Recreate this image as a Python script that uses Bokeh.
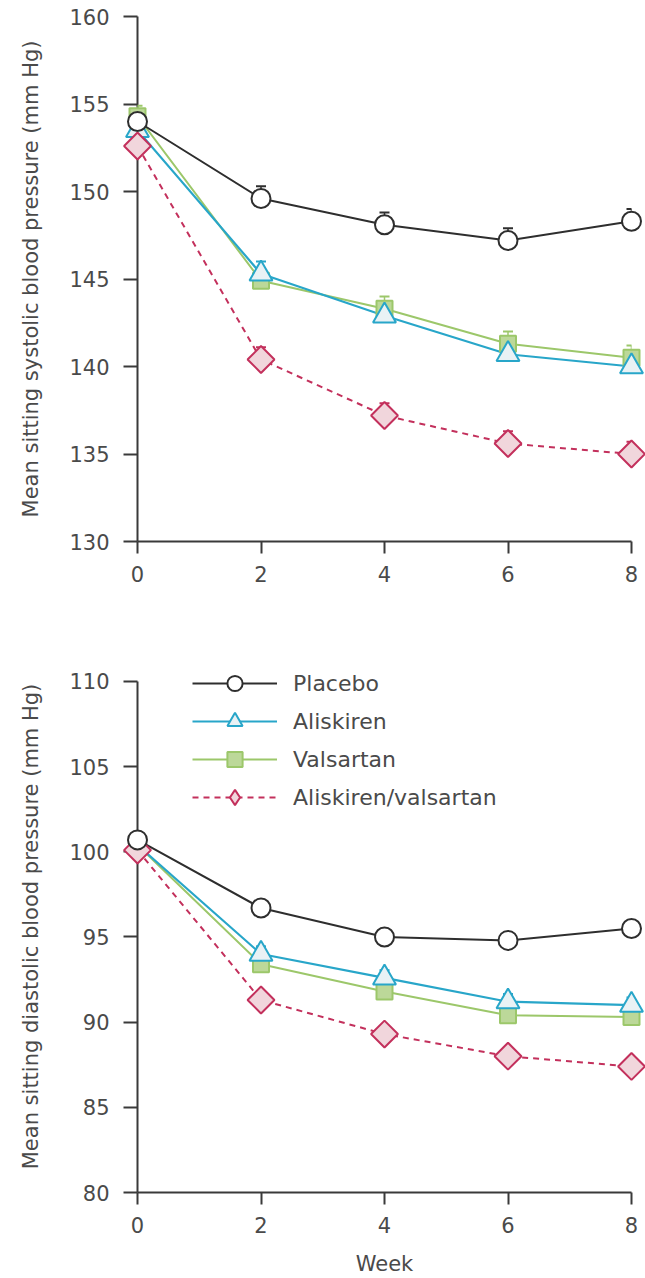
import math
from bokeh.plotting import figure
from bokeh.layouts import column
from bokeh.models import (ColumnDataSource, FixedTicker, Legend, LegendItem,
                          Whisker, TeeHead)
from bokeh.embed import file_html
from bokeh.resources import INLINE

# ---------------- data ----------------
weeks = [0, 2, 4, 6, 8]
x_ticks = [0, 2, 4, 6, 8]
sys_ticks = [130, 135, 140, 145, 150, 155, 160]
dia_ticks = [80, 85, 90, 95, 100, 105, 110]

labels = ["Placebo", "Aliskiren", "Valsartan", "Aliskiren/valsartan"]

sys_placebo = [154.0, 149.6, 148.1, 147.2, 148.3]
sys_aliskiren = [153.5, 145.3, 142.9, 140.7, 140.0]
sys_valsartan = [154.3, 144.9, 143.3, 141.3, 140.5]
sys_combo = [152.6, 140.4, 137.2, 135.6, 135.0]

sys_sem_placebo = [0.6, 0.7, 0.7, 0.7, 0.7]
sys_sem_aliskiren = [0.6, 0.7, 0.7, 0.7, 0.7]
sys_sem_valsartan = [0.6, 0.7, 0.7, 0.7, 0.7]
sys_sem_combo = [0.6, 0.7, 0.7, 0.7, 0.7]

dia_placebo = [100.7, 96.7, 95.0, 94.8, 95.5]
dia_aliskiren = [100.4, 94.0, 92.6, 91.2, 91.0]
dia_valsartan = [100.4, 93.4, 91.8, 90.4, 90.3]
dia_combo = [100.1, 91.3, 89.3, 88.0, 87.4]

dia_sem_placebo = [0.45, 0.45, 0.45, 0.45, 0.45]
dia_sem_aliskiren = [0.45, 0.45, 0.45, 0.45, 0.45]
dia_sem_valsartan = [0.45, 0.45, 0.45, 0.45, 0.45]
dia_sem_combo = [0.45, 0.45, 0.45, 0.45, 0.45]

# ---------------- styles ----------------
FONT = "DejaVu Sans"
TEXT = "#4a4a4a"
AXIS = "#3a3a3a"

styles = {
    "Placebo": dict(marker="circle", size=19, angle=0.0, line_color="#2e2e2e",
                    fill_color="#ffffff", dash="solid", width=2, legend_marker=None),
    "Aliskiren": dict(marker="triangle", size=23, angle=0.0, line_color="#28a6c9",
                      fill_color="#e9f2f5", dash="solid", width=2.2, legend_marker=None),
    "Valsartan": dict(marker="square", size=16, angle=0.0, line_color="#9cc76a",
                      fill_color="#bcd899", dash="solid", width=2, legend_marker=None),
    "Aliskiren/valsartan": dict(marker="square", size=19, angle=math.pi / 4,
                                line_color="#c3305c", fill_color="#f1d6dc",
                                dash="6 5", width=2, legend_marker="diamond"),
}
draw_order = ["Valsartan", "Aliskiren", "Aliskiren/valsartan", "Placebo"]


def make_panel(series, sems, yticks, ylabel, height, border_top, border_bottom,
               y_top_pad=0.0, xlabel=None, legend=False, legend_bottom=0):
    p = figure(width=645, height=height, output_backend="svg", toolbar_location=None,
               x_range=(x_ticks[0], x_ticks[-1]),
               y_range=(yticks[0], yticks[-1] + y_top_pad),
               min_border_left=137, min_border_right=14,
               min_border_top=border_top, min_border_bottom=border_bottom)
    p.outline_line_color = None
    p.xgrid.visible = False
    p.ygrid.visible = False
    p.background_fill_color = "white"
    p.border_fill_color = "white"

    for ax in (p.xaxis[0], p.yaxis[0]):
        ax.axis_line_color = AXIS
        ax.axis_line_width = 2
        ax.major_tick_line_color = AXIS
        ax.major_tick_line_width = 2
        ax.major_tick_in = 0
        ax.minor_tick_line_color = None
        ax.major_label_text_font = FONT
        ax.major_label_text_font_size = "21px"
        ax.major_label_text_color = TEXT
        ax.axis_label_text_font = FONT
        ax.axis_label_text_font_style = "normal"
        ax.axis_label_text_color = TEXT
        ax.axis_label_text_font_size = "21px"

    p.xaxis.ticker = FixedTicker(ticks=x_ticks)
    p.yaxis.ticker = FixedTicker(ticks=yticks)
    p.yaxis.bounds = (yticks[0], yticks[-1])
    p.yaxis.major_tick_out = 14
    p.yaxis.major_label_standoff = 14
    p.yaxis.axis_label = ylabel
    p.yaxis.axis_label_standoff = 23
    p.xaxis.major_tick_out = 12
    p.xaxis.major_label_standoff = 12
    if xlabel:
        p.xaxis.axis_label = xlabel
        p.xaxis.axis_label_standoff = 16

    items = {}
    # error bars (upper half)
    for name in draw_order:
        st = styles[name]
        vals = series[name]
        up = [v + s for v, s in zip(vals, sems[name])]
        src = ColumnDataSource(dict(x=weeks, y=vals, up=up))
        w = Whisker(base="x", lower="y", upper="up", source=src,
                    line_color=st["line_color"], line_width=1.5,
                    upper_head=TeeHead(size=10, line_color=st["line_color"], line_width=2),
                    lower_head=None, level="annotation")
        p.add_layout(w)

    for name in draw_order:
        st = styles[name]
        src = ColumnDataSource(dict(x=weeks, y=series[name]))
        lr = p.line(x="x", y="y", source=src, line_color=st["line_color"],
                    line_width=st["width"], line_dash=st["dash"])
        items[name] = [lr]

    for name in draw_order:
        st = styles[name]
        src = ColumnDataSource(dict(x=weeks, y=series[name]))
        sr = p.scatter(x="x", y="y", source=src, marker=st["marker"], size=st["size"],
                       angle=st["angle"], line_color=st["line_color"], line_width=2,
                       fill_color=st["fill_color"], level="overlay")
        if legend and st["legend_marker"]:
            # legend swatch only (the legend does not rotate markers)
            swatch = p.scatter(x=[float("nan")], y=[float("nan")],
                               marker=st["legend_marker"], size=st["size"],
                               line_color=st["line_color"], line_width=2,
                               fill_color=st["fill_color"])
            items[name].append(swatch)
        else:
            items[name].append(sr)

    if legend:
        leg = Legend(items=[LegendItem(label=n, renderers=items[n]) for n in labels],
                     location=(55, legend_bottom), orientation="vertical",
                     glyph_width=85, glyph_height=38, label_height=38, spacing=0,
                     padding=0, margin=0, label_standoff=16,
                     label_text_font=FONT, label_text_font_size="22px",
                     label_text_color=TEXT, border_line_alpha=0,
                     background_fill_alpha=0)
        p.add_layout(leg)
    return p


sys_series = {"Placebo": sys_placebo, "Aliskiren": sys_aliskiren,
              "Valsartan": sys_valsartan, "Aliskiren/valsartan": sys_combo}
sys_sems = {"Placebo": sys_sem_placebo, "Aliskiren": sys_sem_aliskiren,
            "Valsartan": sys_sem_valsartan, "Aliskiren/valsartan": sys_sem_combo}
dia_series = {"Placebo": dia_placebo, "Aliskiren": dia_aliskiren,
              "Valsartan": dia_valsartan, "Aliskiren/valsartan": dia_combo}
dia_sems = {"Placebo": dia_sem_placebo, "Aliskiren": dia_sem_aliskiren,
            "Valsartan": dia_sem_valsartan, "Aliskiren/valsartan": dia_sem_combo}

p1 = make_panel(sys_series, sys_sems, sys_ticks,
                "Mean sitting systolic blood pressure (mm Hg)",
                height=640, border_top=16, border_bottom=99)
p2 = make_panel(dia_series, dia_sems, dia_ticks,
                "Mean sitting diastolic blood pressure (mm Hg)",
                height=638, border_top=20, border_bottom=83, y_top_pad=1.23,
                xlabel="Week", legend=True, legend_bottom=376)

layout = column(p1, p2, spacing=0)
open("out.html", "w").write(file_html(layout, INLINE))
